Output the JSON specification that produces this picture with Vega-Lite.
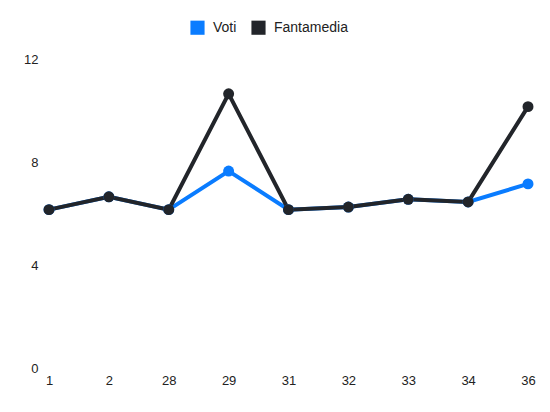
{
  "$schema": "https://vega.github.io/schema/vega-lite/v6.json",
  "width": 479,
  "height": 309,
  "autosize": "none",
  "padding": {"left": 49, "top": 59, "right": 22, "bottom": 44},
  "background": "white",
  "config": {
    "view": {"stroke": null},
    "font": "Liberation Sans",
    "axis": {"labelFont": "Liberation Sans", "labelFontSize": 13, "labelColor": "#222", "grid": false, "domain": false, "ticks": false, "title": null},
    "legend": {"labelFont": "Liberation Sans", "labelFontSize": 14, "labelColor": "#222"}
  },
  "data": {
    "values": [
      {"giornata": "1", "serie": "Voti", "valore": 6.15},
      {"giornata": "2", "serie": "Voti", "valore": 6.65},
      {"giornata": "28", "serie": "Voti", "valore": 6.15},
      {"giornata": "29", "serie": "Voti", "valore": 7.65},
      {"giornata": "31", "serie": "Voti", "valore": 6.15},
      {"giornata": "32", "serie": "Voti", "valore": 6.25},
      {"giornata": "33", "serie": "Voti", "valore": 6.55},
      {"giornata": "34", "serie": "Voti", "valore": 6.45},
      {"giornata": "36", "serie": "Voti", "valore": 7.15},
      {"giornata": "1", "serie": "Fantamedia", "valore": 6.15},
      {"giornata": "2", "serie": "Fantamedia", "valore": 6.65},
      {"giornata": "28", "serie": "Fantamedia", "valore": 6.15},
      {"giornata": "29", "serie": "Fantamedia", "valore": 10.65},
      {"giornata": "31", "serie": "Fantamedia", "valore": 6.15},
      {"giornata": "32", "serie": "Fantamedia", "valore": 6.25},
      {"giornata": "33", "serie": "Fantamedia", "valore": 6.55},
      {"giornata": "34", "serie": "Fantamedia", "valore": 6.45},
      {"giornata": "36", "serie": "Fantamedia", "valore": 10.15}
    ]
  },
  "encoding": {
    "x": {
      "field": "giornata",
      "type": "ordinal",
      "sort": null,
      "scale": {"type": "point", "padding": 0},
      "axis": {"labelAngle": 0, "labelPadding": 6}
    },
    "y": {
      "field": "valore",
      "type": "quantitative",
      "scale": {"domain": [0, 12], "nice": false},
      "axis": {"values": [0, 4, 8, 12], "labelPadding": 11}
    },
    "color": {
      "field": "serie",
      "type": "nominal",
      "sort": ["Voti", "Fantamedia"],
      "scale": {"domain": ["Voti", "Fantamedia"], "range": ["#0a7cff", "#22252a"]},
      "legend": {
        "title": null,
        "orient": "none",
        "direction": "horizontal",
        "legendX": 141,
        "legendY": -39,
        "symbolType": "square",
        "symbolSize": 200,
        "symbolStrokeWidth": 0,
        "symbolOpacity": 1,
        "columnPadding": 14,
        "labelOffset": 8
      }
    }
  },
  "layer": [
    {"mark": {"type": "line", "strokeWidth": 4}},
    {"mark": {"type": "point", "filled": true, "size": 120, "opacity": 1}}
  ]
}
